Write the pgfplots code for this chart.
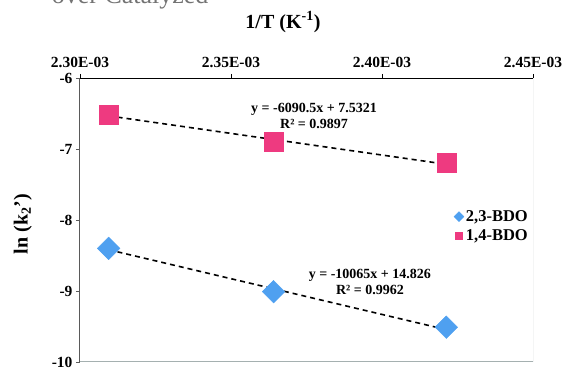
\documentclass[border=0pt]{standalone}
\usepackage{pgfplots}
\pgfplotsset{compat=1.18}
\usepackage{pgfplotstable}
\usepackage{fontspec}
\setmainfont{Liberation Serif}
\definecolor{bdoblue}{RGB}{79,160,240}
\definecolor{bdopink}{RGB}{238,58,128}
\definecolor{bordergray}{RGB}{165,176,176}
\definecolor{axgray}{RGB}{90,90,90}

\pgfplotstableread{
x y
0.0023095 -8.40
0.0023641 -9.01
0.0024213 -9.51
}\bdoA
\pgfplotstableread{
x y
0.0023095 -6.52
0.0023641 -6.90
0.0024213 -7.19
}\bdoB

\begin{document}
\begin{tikzpicture}
\useasboundingbox (0,0) rectangle (565pt,367pt);
\clip (0,0) rectangle (565pt,367pt);
\node[anchor=base east, font=\fontsize{26}{28}\selectfont, text=black!55] at (212pt,363pt) {over Catalyzed};
\begin{axis}[
  at={(80pt,5pt)}, anchor=south west,
  scale only axis, width=453pt, height=284pt,
  xmin=0.0023, xmax=0.00245, ymin=-10, ymax=-6,
  axis x line*=top, axis y line*=left,
  x axis line style={black, line width=1pt, -},
  y axis line style={axgray, line width=1pt, -},
  xtick={0.0023,0.00235,0.0024,0.00245},
  xticklabels={2.30E-03,2.35E-03,2.40E-03,2.45E-03},
  ytick={-10,-9,-8,-7,-6},
  yticklabels={-10,-9,-8,-7,-6},
  scaled x ticks=false,
  tick align=outside, major tick length=4pt,
  x tick style={black, line width=0.8pt},
  y tick style={axgray, line width=0.8pt},
  tick label style={font=\fontsize{15.5}{17}\selectfont\bfseries},
  xticklabel style={yshift=3pt},
  xlabel={1/T (K\textsuperscript{-1})},
  ylabel={ln (k\textsubscript{2}')},
  every axis x label/.style={at={(axis description cs:0.448,1)}, anchor=center, yshift=56pt, font=\fontsize{20}{22}\selectfont\bfseries},
  every axis y label/.style={at={(axis description cs:-0.126,0.486)}, anchor=center, rotate=90, font=\fontsize{20}{22}\selectfont\bfseries},
  legend style={at={(rel axis cs:0.823,0.545)}, anchor=north west, draw=none, fill=none,
    font=\fontsize{16.5}{18}\selectfont\bfseries, row sep=3pt, inner sep=1pt,
    /tikz/every even column/.append style={column sep=2pt}},
  legend cell align=left,
  legend image code/.code={\draw[#1, mark size=3.5pt] plot coordinates {(0.1cm,0cm)};},
]
\draw[bordergray, line width=1pt] (rel axis cs:0,0) -- (rel axis cs:1,0) -- (rel axis cs:1,1);
\addplot[forget plot, black, line width=1.6pt, dash pattern=on 5pt off 4pt] coordinates {(0.0023095,-6.5337) (0.0024213,-7.2149)};
\addplot[forget plot, black, line width=1.6pt, dash pattern=on 5pt off 4pt] coordinates {(0.0023095,-8.4191) (0.0024213,-9.5444)};
\addplot[only marks, mark=square*, mark size=8pt, color=bdoblue, mark options={rotate=45, draw=bdoblue, fill=bdoblue}] table[x=x,y=y] {\bdoA};
\addlegendentry{2,3-BDO}
\addplot[only marks, mark=square*, mark size=9.5pt, color=bdopink, mark options={draw=bdopink, fill=bdopink}] table[x=x,y=y] {\bdoB};
\addlegendentry{1,4-BDO}
\node[font=\fontsize{14}{16}\selectfont\bfseries, align=center] at (axis cs:0.0023775,-6.53) {y = -6090.5x + 7.5321\\R² = 0.9897};
\node[font=\fontsize{14}{16}\selectfont\bfseries, align=center] at (axis cs:0.002396,-8.87) {y = -10065x + 14.826\\R² = 0.9962};
\end{axis}
\end{tikzpicture}
\end{document}
